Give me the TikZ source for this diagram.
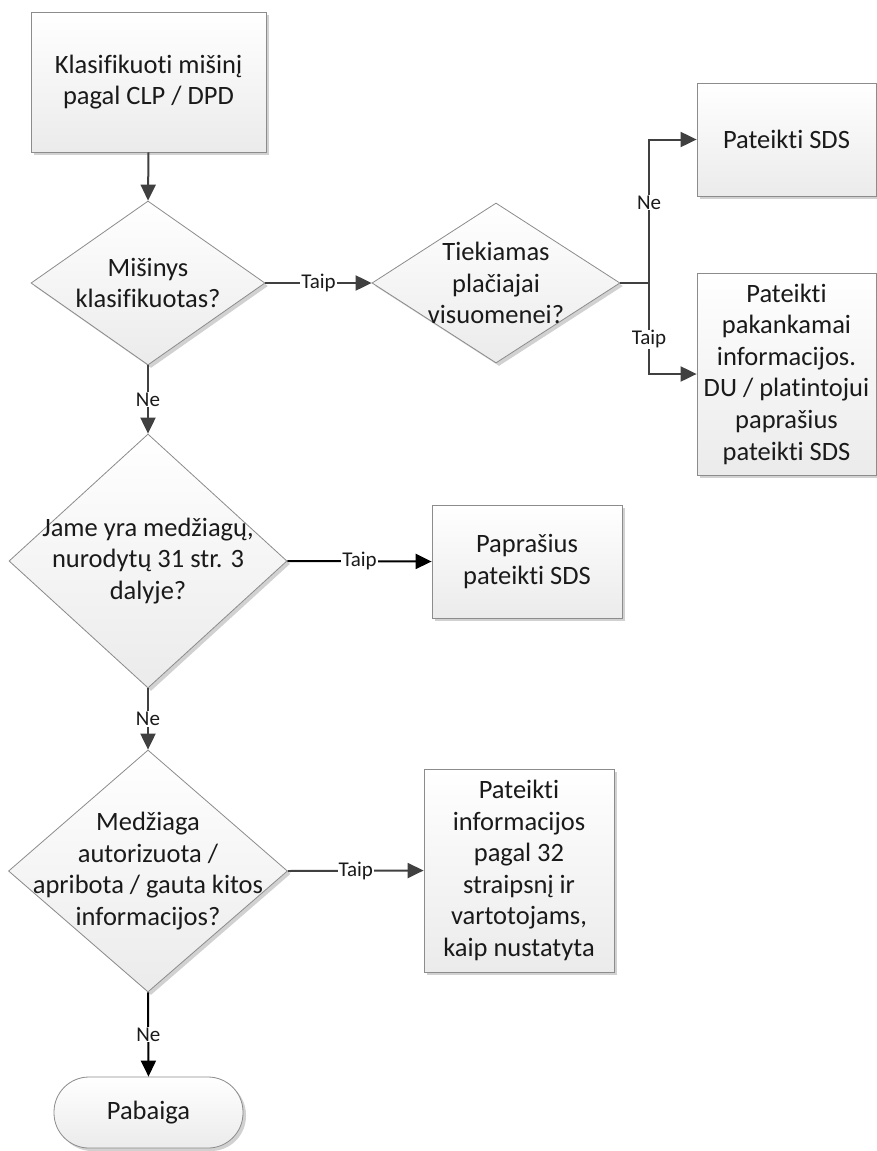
\documentclass[tikz,border=0pt]{standalone}
\usepackage{fontspec}
\setmainfont{Carlito}[RawFeature={-liga;-clig;-calt;-dlig}]
\usetikzlibrary{shapes.geometric,arrows.meta,shadows}
\definecolor{edgegray}{HTML}{8C8C8C}
\definecolor{linegray}{HTML}{404040}
\definecolor{fillbot}{HTML}{EBEBEB}
\definecolor{txtcol}{HTML}{1A1A1A}
\begin{document}
\begin{tikzpicture}[x=1pt,y=-1pt,
  maintext/.style={font=\fontsize{26.5}{31.6}\selectfont, align=center, text=txtcol},
  shaded/.style={draw=edgegray, line width=0.8pt, top color=white, bottom color=fillbot,
    drop shadow={shadow xshift=3pt, shadow yshift=-3pt, opacity=0.18, fill=black}},
  procbox/.style={shaded, rectangle, inner sep=0pt, maintext},
  decbox/.style={shaded, diamond, inner sep=0pt},
  dectext/.style={maintext},
  termbox/.style={shaded, rectangle, rounded corners=35pt, inner sep=0pt, maintext},
  conn/.style={draw=linegray, line width=2pt},
  connk/.style={draw=black, line width=2pt},
  arr/.style={-{Triangle[length=16pt,width=15pt]}},
  lab/.style={fill=white, inner sep=1pt, font=\fontsize{21}{25}\selectfont, text=txtcol}
]
\useasboundingbox (0,0) rectangle (877,1151);
\fill[white] (0,0) rectangle (877,1151);

% nodes
\node[procbox, minimum width=235pt, minimum height=140pt] (start) at (148.5,82) {Klasifikuoti mišinį\\pagal CLP / DPD};
\node[decbox, minimum width=234pt, minimum height=164pt] (d1) at (148,283) {};
\node[dectext] (d1t) at (d1.center) {Mišinys\\klasifikuotas?};
\node[decbox, minimum width=248pt, minimum height=160pt] (d2) at (496,283) {};
\node[dectext] (d2t) at (d2.center) {Tiekiamas\\plačiajai\\visuomenei?};
\node[procbox, minimum width=179pt, minimum height=113pt] (sds) at (786.5,139.5) {Pateikti SDS};
\node[procbox, minimum width=179pt, minimum height=202pt] (info) at (786.5,374) {Pateikti\\pakankamai\\informacijos.\\DU / platintojui\\paprašius\\pateikti SDS};
\node[decbox, minimum width=278pt, minimum height=254pt] (d3) at (148,561) {};
\node[dectext] (d3t) at (d3.center) {Jame yra medžiagų,\\nurodytų 31 str. 3\\dalyje?};
\node[procbox, minimum width=190pt, minimum height=113pt] (ask) at (527,561.5) {Paprašius\\pateikti SDS};
\node[decbox, minimum width=279pt, minimum height=242pt] (d4) at (148,871) {};
\node[dectext] (d4t) at (d4.center) {Medžiaga\\autorizuota /\\apribota / gauta kitos\\informacijos?};
\node[procbox, minimum width=190pt, minimum height=203pt] (pinfo) at (519,870.5) {Pateikti\\informacijos\\pagal 32\\straipsnį ir\\vartotojams,\\kaip nustatyta};
\node[termbox, minimum width=189pt, minimum height=71pt] (end) at (148.5,1112.5) {Pabaiga};

\coordinate (br) at (649,283);

% connectors
\draw[conn,arr] (start.south) -- (d1.north);
\draw[conn,arr] (d1.east) -- node[lab]{Taip} (d2.west);
\draw[conn] (d2.east) -- (br);
\draw[conn,arr] (br) |- node[lab,pos=0.28]{Ne} (sds.west);
\draw[conn,arr] (br) |- node[lab,pos=0.31]{Taip} (info.west);
\draw[conn,arr] (d1.south) -- node[lab]{Ne} (d3.north);
\draw[connk,arr] (d3.east) -- node[lab]{Taip} (ask.west);
\draw[conn,arr] (d3.south) -- node[lab]{Ne} (d4.north);
\draw[conn,arr] (d4.east) -- node[lab]{Taip} (pinfo.west);
\draw[connk,arr] (d4.south) -- node[lab]{Ne} (end.north);
\end{tikzpicture}
\end{document}
